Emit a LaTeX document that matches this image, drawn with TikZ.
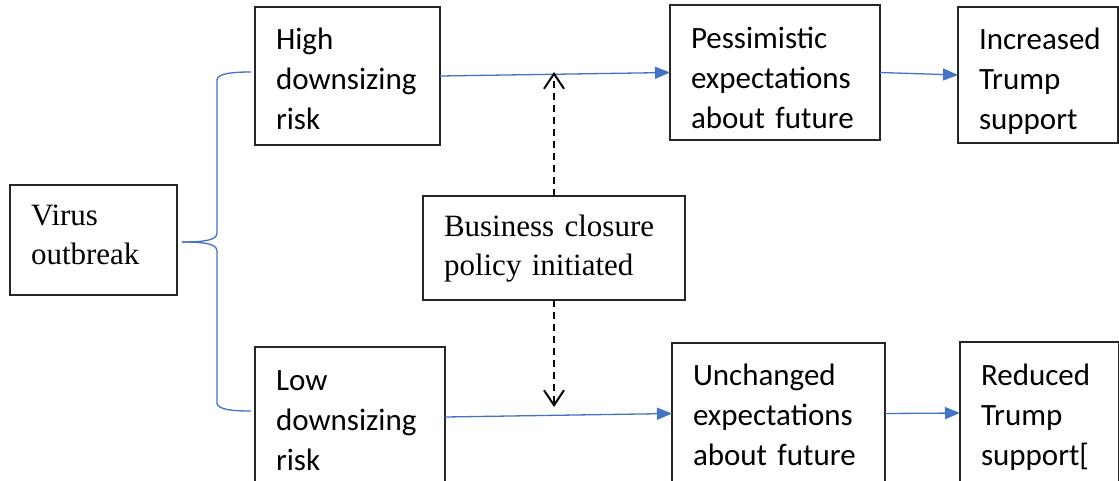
\documentclass[tikz,border=0pt]{standalone}
\usepackage{fontspec}
\setmainfont{Liberation Serif}
\setsansfont{Carlito}
\usetikzlibrary{arrows.meta}

\definecolor{wordblue}{HTML}{4472C4}

\tikzset{
  sansbox/.style={draw=black!85, line width=1.3pt, inner xsep=21pt, inner ysep=0pt,
    outer sep=0pt, anchor=north west, align=left, font=\sffamily\fontsize{31}{40}\selectfont},
  serifbox/.style={draw=black!85, line width=1.3pt, inner xsep=21pt, inner ysep=0pt,
    outer sep=0pt, anchor=north west, align=left, font=\rmfamily\fontsize{31}{39}\selectfont},
  bluearrow/.style={draw=wordblue, line width=1.3pt, -{Triangle[length=15pt,width=12pt]}},
  policyarrow/.style={draw=black, line width=2pt, dash pattern=on 7pt off 5pt,
    -{Straight Barb[length=15pt,width=20pt,line width=2pt]}},
}

\begin{document}
\begin{tikzpicture}[x=1pt,y=-1pt]

\useasboundingbox (0,0) rectangle (1119,480);
\clip (0,0) rectangle (1119,480);

% boxes
\node[serifbox, text width=125pt, text height=40pt, text depth=70pt] (virus) at (10,185) {Virus\\outbreak};
\node[sansbox, text width=143pt, text height=42pt, text depth=96pt] (high) at (255,7) {High\\downsizing\\risk};
\node[sansbox, text width=148pt, text height=43pt, text depth=97pt] (low) at (255,347) {Low\\downsizing\\risk};
\node[serifbox, text width=220pt, text height=40pt, text depth=64pt] (policy) at (423,196) {Business closure\\policy initiated};
\node[sansbox, text width=168pt, text height=43pt, text depth=92pt] (pess) at (670,5) {Pessimistic\\expectations\\about future};
\node[sansbox, text width=171pt, text height=42pt, text depth=99pt] (unch) at (672,343) {Unchanged\\expectations\\about future};
\node[sansbox, text width=118pt, text height=42.5pt, text depth=93.5pt] (incr) at (958,7) {Increased\\Trump\\support};
\node[sansbox, text width=117pt, text height=43pt, text depth=99pt] (red) at (960,342) {Reduced\\Trump\\support[};

% brace
\coordinate (cusp) at (182,242);
\coordinate (bracetop) at (251,72);
\coordinate (bracebot) at (251,411);
\draw[wordblue, line width=1.3pt] (cusp) .. controls (205,242) and (217,240) .. (217,233)
  -- (217,80) .. controls (217,73) and (235,72) .. (bracetop);
\draw[wordblue, line width=1.3pt] (cusp) .. controls (205,242) and (217,244) .. (217,251)
  -- (217,403) .. controls (217,410) and (235,411) .. (bracebot);

% arrows
\draw[bluearrow] (high.east) -- (pess.west);
\draw[bluearrow] (pess.east) -- (incr.west);
\draw[bluearrow] (low.east) -- (unch.west);
\draw[bluearrow] (unch.east) -- (red.west);

\coordinate (uptip) at (554,72);
\coordinate (downtip) at (554,407);
\draw[policyarrow] (policy.north) -- (uptip);
\draw[policyarrow] (policy.south) -- (downtip);
\end{tikzpicture}
\end{document}
